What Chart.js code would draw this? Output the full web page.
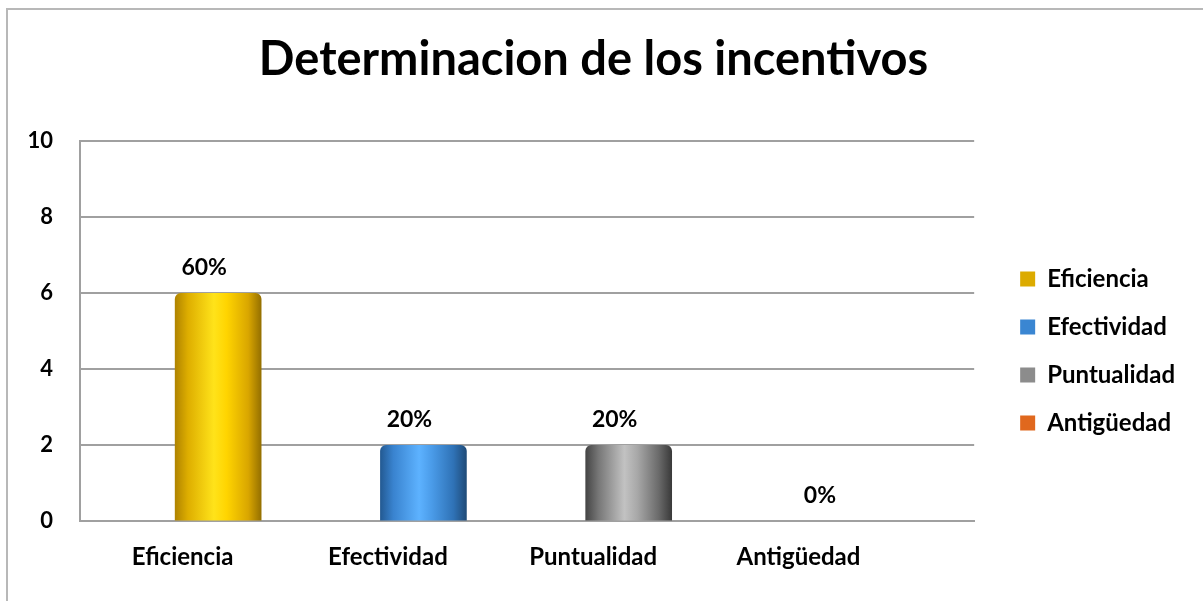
<!DOCTYPE html>
<html><head><meta charset="utf-8">
<script src="https://cdn.jsdelivr.net/npm/chart.js@4.4.1/dist/chart.umd.min.js"></script>
<style>
html,body{margin:0;padding:0;background:#fff;overflow:hidden}
#wrap{position:relative;width:1203px;height:601px}
#frame{position:absolute;left:6px;top:8px;width:1300px;height:700px;border:2px solid #b8b8b8;box-sizing:border-box;pointer-events:none}
canvas{position:absolute;left:0;top:0}
</style></head><body>
<div id="wrap"><canvas id="c" width="1203" height="601"></canvas><div id="frame"></div></div>
<script>
// ---- data ----
const categories = ['Eficiencia', 'Efectividad', 'Puntualidad', 'Antigüedad'];
const values = [6, 2, 2, 0];
const percentLabels = ['60%', '20%', '20%', '0%'];
const titleText = 'Determinacion de los incentivos';
const yMin = 0, yMax = 10, yStep = 2;

// ---- styles ----
const gradientStops = [
  ['#b08400', '#deae00', '#ffe31a', '#ffd400', '#d9a600', '#957000'],
  ['#235a93', '#3983cf', '#5db2ff', '#4a9be8', '#2f72b6', '#1f4b78'],
  ['#454545', '#777777', '#c2c2c2', '#a8a8a8', '#6a6a6a', '#3a3a3a'],
  ['#9c4210', '#d0621c', '#ff9a4a', '#f07d2c', '#c0561a', '#873810']
];
const stopPos = [0, 0.15, 0.45, 0.6, 0.85, 1];
const legendColors = ['#dcab00', '#3a86d2', '#8c8c8c', '#e0681e'];
const barWidth = 86;
const font = 'Lato';

function barFill(ctx) {
  const chart = ctx.chart;
  const i = ctx.datasetIndex;
  if (ctx.raw && ctx.raw.y === 0) return 'rgba(0,0,0,0)';
  if (!chart.chartArea || !chart.scales.x) return legendColors[i];
  const cx = chart.scales.x.getPixelForValue(i);
  const g = chart.ctx.createLinearGradient(cx - barWidth / 2, 0, cx + barWidth / 2, 0);
  gradientStops[i].forEach((c, k) => g.addColorStop(stopPos[k], c));
  return g;
}

const datasets = categories.map((c, i) => ({
  label: c,
  data: [{ x: i, y: values[i] }],
  backgroundColor: barFill,
  borderWidth: 0,
  borderRadius: { topLeft: 6, topRight: 6, bottomLeft: 0, bottomRight: 0 },
  borderSkipped: false,
  barThickness: barWidth,
  grouped: false
}));

const valueLabels = {
  id: 'valueLabels',
  afterDatasetsDraw(chart) {
    const ctx = chart.ctx;
    ctx.save();
    ctx.font = 'bold 23px ' + font;
    ctx.fillStyle = '#000';
    ctx.textAlign = 'center';
    ctx.textBaseline = 'middle';
    chart.data.datasets.forEach((ds, i) => {
      const el = chart.getDatasetMeta(i).data[0];
      if (el) ctx.fillText(percentLabels[i], el.x - 14, el.y - 26);
    });
    ctx.restore();
  }
};

new Chart(document.getElementById('c'), {
  type: 'bar',
  data: { datasets },
  plugins: [valueLabels],
  options: {
    responsive: false,
    animation: false,
    events: [],
    layout: { padding: { left: 2, right: 18, top: 10, bottom: 7 } },
    plugins: {
      title: {
        display: true, text: titleText, color: '#000',
        font: { family: font, size: 47, weight: 'bold' },
        padding: { top: 22, bottom: 53 }
      },
      legend: {
        position: 'right',
        title: { display: true, text: ' ', font: { size: 10 }, padding: { top: 74, bottom: 12 } },
        labels: {
          color: '#000', boxWidth: 15, boxHeight: 15, padding: 24,
          font: { family: font, size: 24, weight: 'bold' },
          generateLabels: () => categories.map((c, i) => ({
            text: c, fillStyle: legendColors[i], strokeStyle: legendColors[i], fontColor: '#000',
            lineWidth: 0, datasetIndex: i, hidden: false
          }))
        }
      },
      tooltip: { enabled: false }
    },
    scales: {
      x: {
        type: 'linear', min: -0.673, max: 3.683, offset: false,
        grid: { display: false, drawTicks: false },
        border: { display: true, color: '#a0a0a0', width: 2 },
        ticks: {
          stepSize: 1, includeBounds: false, autoSkip: false, maxRotation: 0,
          labelOffset: -35.5, padding: 22, color: '#000',
          font: { family: font, size: 24, weight: 'bold' },
          callback: (v) => (Number.isInteger(v) && categories[v] !== undefined) ? categories[v] : ''
        }
      },
      y: {
        min: yMin, max: yMax,
        grid: { color: '#a0a0a0', lineWidth: 2, drawTicks: false },
        border: { display: true, color: '#a0a0a0', width: 2 },
        ticks: { stepSize: yStep, padding: 27, color: '#000', font: { family: font, size: 22, weight: 'bold' } },
        afterFit: (s) => { s.width = 78; }
      },
      gap: {
        type: 'linear', position: 'right', display: true,
        grid: { display: false, drawTicks: false },
        border: { display: false },
        ticks: { display: false },
        afterFit: (s) => { s.width = 22; }
      }
    }
  }
});
</script>
</body></html>
